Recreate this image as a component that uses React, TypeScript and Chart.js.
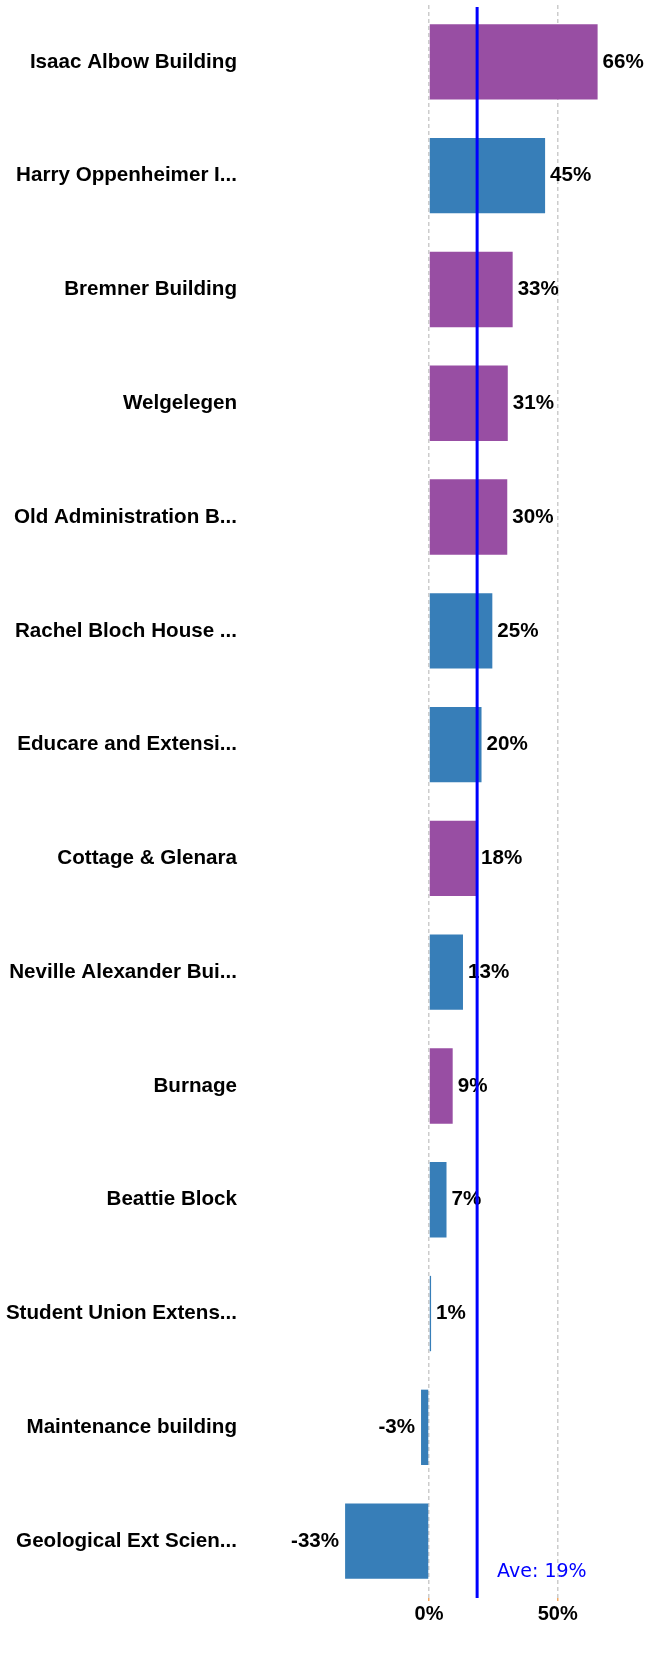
import React, { useEffect, useRef } from "react";
import { Chart, registerables } from "chart.js";

Chart.register(...registerables);

const categories = [
  "Isaac Albow Building",
  "Harry Oppenheimer I...",
  "Bremner Building",
  "Welgelegen",
  "Old Administration B...",
  "Rachel Bloch House ...",
  "Educare and Extensi...",
  "Cottage & Glenara",
  "Neville Alexander Bui...",
  "Burnage",
  "Beattie Block",
  "Student Union Extens...",
  "Maintenance building",
  "Geological Ext Scien...",
];

const values = [65.5, 45.1, 32.5, 30.6, 30.4, 24.6, 20.4, 18.3, 13.2, 9.2, 6.8, 0.8, -3.1, -32.6];

const groups = ["A", "B", "A", "A", "A", "B", "B", "A", "B", "A", "B", "B", "B", "B"];

const xTickValues = [0, 50];

const groupColors: Record<string, string> = { A: "#984EA3", B: "#377EB8" };

const average = values.reduce((a, b) => a + b, 0) / values.length;

const FONT_FAMILY = "'Liberation Sans', Arial, sans-serif";
const LABEL_FONT = "bold 20.6px " + FONT_FAMILY;

const valueLabelPlugin = {
  id: "valueLabels",
  afterDatasetsDraw(chart: any) {
    const ctx = chart.ctx;
    const meta = chart.getDatasetMeta(0);
    ctx.save();
    ctx.font = LABEL_FONT;
    ctx.fillStyle = "#000";
    ctx.textBaseline = "middle";
    meta.data.forEach((bar: any, i: number) => {
      const v = values[i];
      const text = Math.round(v) + "%";
      if (v >= 0) {
        ctx.textAlign = "left";
        ctx.fillText(text, bar.x + 5, bar.y);
      } else {
        ctx.textAlign = "right";
        ctx.fillText(text, bar.x - 6, bar.y);
      }
    });
    ctx.restore();
  },
};

const averagePlugin = {
  id: "averageLine",
  afterDraw(chart: any) {
    const ctx = chart.ctx;
    const area = chart.chartArea;
    const x = chart.scales.x.getPixelForValue(average);
    ctx.save();
    ctx.strokeStyle = "#0000ff";
    ctx.lineWidth = 3;
    ctx.beginPath();
    ctx.moveTo(x, area.top + 2);
    ctx.lineTo(x, area.bottom);
    ctx.stroke();
    ctx.font = "19px 'DejaVu Sans', Verdana, sans-serif";
    ctx.fillStyle = "#0000ff";
    ctx.textAlign = "left";
    ctx.textBaseline = "alphabetic";
    ctx.fillText("Ave: " + Math.round(average) + "%", x + 20, area.bottom - 21);
    ctx.restore();
  },
};

export default function App() {
  const canvasRef = useRef<HTMLCanvasElement | null>(null);

  useEffect(() => {
    document.body.style.margin = "0";
    const canvas = canvasRef.current;
    if (!canvas) return;
    const chart = new Chart(canvas, {
      type: "bar",
      data: {
        labels: categories,
        datasets: [
          {
            data: values,
            backgroundColor: groups.map((g) => groupColors[g]),
            borderWidth: 0,
            categoryPercentage: 1,
            barPercentage: 0.662,
          },
        ],
      },
      options: {
        indexAxis: "y",
        animation: false,
        responsive: false,
        maintainAspectRatio: false,
        layout: { padding: { top: 5, right: 0, bottom: 27, left: 0 } },
        plugins: {
          legend: { display: false },
          tooltip: { enabled: false },
        },
        scales: {
          x: {
            min: -73.04,
            max: 84.3,
            afterBuildTicks(scale: any) {
              scale.ticks = xTickValues.map((v) => ({ value: v }));
            },
            border: { display: false, dash: [4, 3] },
            grid: {
              color: "#cccccc",
              lineWidth: 1.5,
              drawTicks: true,
              tickLength: 3,
              tickColor: "#f5a860",
            },
            ticks: {
              padding: 1,
              color: "#000",
              font: { family: FONT_FAMILY, size: 20, weight: "bold" },
              callback: (v: any) => v + "%",
              maxRotation: 0,
            },
          },
          y: {
            afterFit(scale: any) {
              scale.width = 241;
              scale.paddingTop = 0;
              scale.paddingBottom = 0;
            },
            border: { display: false },
            grid: { display: false, drawTicks: false },
            ticks: {
              padding: 4,
              color: "#000",
              font: { family: FONT_FAMILY, size: 20.6, weight: "bold" },
              autoSkip: false,
            },
          },
        },
      } as any,
      plugins: [valueLabelPlugin, averagePlugin],
    });
    return () => chart.destroy();
  }, []);

  return (
    <div style={{ width: 646, height: 1654 }}>
      <canvas ref={canvasRef} width={646} height={1654} style={{ display: "block", width: 646, height: 1654 }} />
    </div>
  );
}
